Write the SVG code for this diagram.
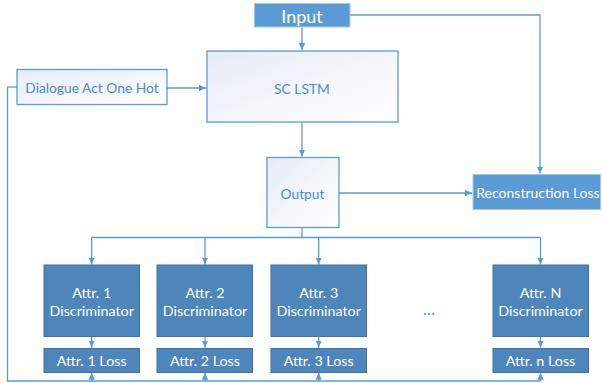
<svg xmlns="http://www.w3.org/2000/svg" width="602" height="383" viewBox="0 0 602 383">
<style>
text{font-family:Lato,"Open Sans","Liberation Sans",sans-serif;text-anchor:middle;dominant-baseline:central}
.lt{fill:url(#g);stroke:#5B9BD5;stroke-width:1.3}
.lt-t{fill:#4A8BCB;font-size:13.8px}
.hi{fill:#5B9BD5;stroke:#A9C8E8;stroke-width:1}
.hi-t{fill:#fff}
.dk{fill:#4E86BC;stroke:#41719C;stroke-width:1}
.dk-t{fill:#fff;font-size:14.3px}
.c{fill:none;stroke:#5B9BD5;stroke-width:1.3}
</style>
<defs>
<linearGradient id="g" x1="0" y1="0" x2="1" y2="1">
<stop offset="0" stop-color="#E6ECF7"/>
<stop offset="1" stop-color="#FFFFFF"/>
</linearGradient>
<marker id="a" markerWidth="8" markerHeight="8" refX="7" refY="4" orient="auto" markerUnits="userSpaceOnUse">
<path d="M0,0.8 L7,4 L0,7.2 Z" fill="#5B9BD5"/>
</marker>
</defs>
<g id="connectors">
<path class="c" d="M302,27.5 V50" marker-end="url(#a)"/>
<path class="c" d="M350,15 H540 V173.5" marker-end="url(#a)"/>
<path class="c" d="M167,88 H206" marker-end="url(#a)"/>
<path class="c" d="M302,122.5 V156.5" marker-end="url(#a)"/>
<path class="c" d="M339,193 H472" marker-end="url(#a)"/>
<path class="c" d="M302,227 V237.5 H91.7"/>
<path class="c" d="M302,237.5 H540.5"/>
<path class="c" d="M91.7,237.5 V264.5" marker-end="url(#a)"/>
<path class="c" d="M205,237.5 V264.5" marker-end="url(#a)"/>
<path class="c" d="M318.7,237.5 V264.5" marker-end="url(#a)"/>
<path class="c" d="M540.5,237.5 V264.5" marker-end="url(#a)"/>
<path class="c" d="M91.7,337 V347.5" marker-end="url(#a)"/>
<path class="c" d="M205,337 V347.5" marker-end="url(#a)"/>
<path class="c" d="M318.7,337 V347.5" marker-end="url(#a)"/>
<path class="c" d="M540.5,337 V347.5" marker-end="url(#a)"/>
<path class="c" d="M7.5,87 H17"/>
<path class="c" d="M7.5,87 V381 H540.5"/>
<path class="c" d="M91.7,381 V372.8" marker-end="url(#a)"/>
<path class="c" d="M205,381 V372.8" marker-end="url(#a)"/>
<path class="c" d="M318.7,381 V372.8" marker-end="url(#a)"/>
<path class="c" d="M540.5,381 V372.8" marker-end="url(#a)"/>
</g>
<g id="input"><rect class="hi" x="254.5" y="3.5" width="95.5" height="23.5"/><text class="hi-t" x="302" y="15.5" font-size="18">Input</text></g>
<g id="sclstm"><rect class="lt" x="207" y="51" width="191" height="71"/><text class="lt-t" x="302" y="88">SC LSTM</text></g>
<g id="dialogue"><rect class="lt" x="17" y="69.5" width="150" height="35"/><text class="lt-t" x="92" y="87.5">Dialogue Act One Hot</text></g>
<g id="output"><rect class="lt" x="267" y="157.5" width="72" height="70"/><text class="lt-t" x="302.5" y="193">Output</text></g>
<g id="recon"><rect class="hi" x="473" y="174.5" width="127.5" height="35"/><text class="hi-t" x="538" y="192.5" font-size="14">Reconstruction Loss</text></g>
<g id="disc1"><rect class="dk" x="44" y="265" width="95.5" height="71.5"/><text class="dk-t" x="91.7" y="292.5">Attr. 1</text><text class="dk-t" x="91.7" y="310">Discriminator</text></g>
<g id="disc2"><rect class="dk" x="157" y="265" width="95.5" height="71.5"/><text class="dk-t" x="205" y="292.5">Attr. 2</text><text class="dk-t" x="205" y="310">Discriminator</text></g>
<g id="disc3"><rect class="dk" x="271" y="265" width="95.5" height="71.5"/><text class="dk-t" x="318.7" y="292.5">Attr. 3</text><text class="dk-t" x="318.7" y="310">Discriminator</text></g>
<g id="discN"><rect class="dk" x="493" y="265" width="95.5" height="71.5"/><text class="dk-t" x="540.5" y="292.5">Attr. N</text><text class="dk-t" x="540.5" y="310">Discriminator</text></g>
<g id="loss1"><rect class="dk" x="44" y="348.5" width="95.5" height="24"/><text class="dk-t" x="91.7" y="360.5">Attr. 1 Loss</text></g>
<g id="loss2"><rect class="dk" x="157" y="348.5" width="95.5" height="24"/><text class="dk-t" x="205" y="360.5">Attr. 2 Loss</text></g>
<g id="loss3"><rect class="dk" x="271" y="348.5" width="95.5" height="24"/><text class="dk-t" x="318.7" y="360.5">Attr. 3 Loss</text></g>
<g id="lossN"><rect class="dk" x="493" y="348.5" width="95.5" height="24"/><text class="dk-t" x="540.5" y="360.5">Attr. n Loss</text></g>
<g id="ellipsis"><text x="429" y="308" font-size="16" fill="#4A8BCB">…</text></g>
</svg>
